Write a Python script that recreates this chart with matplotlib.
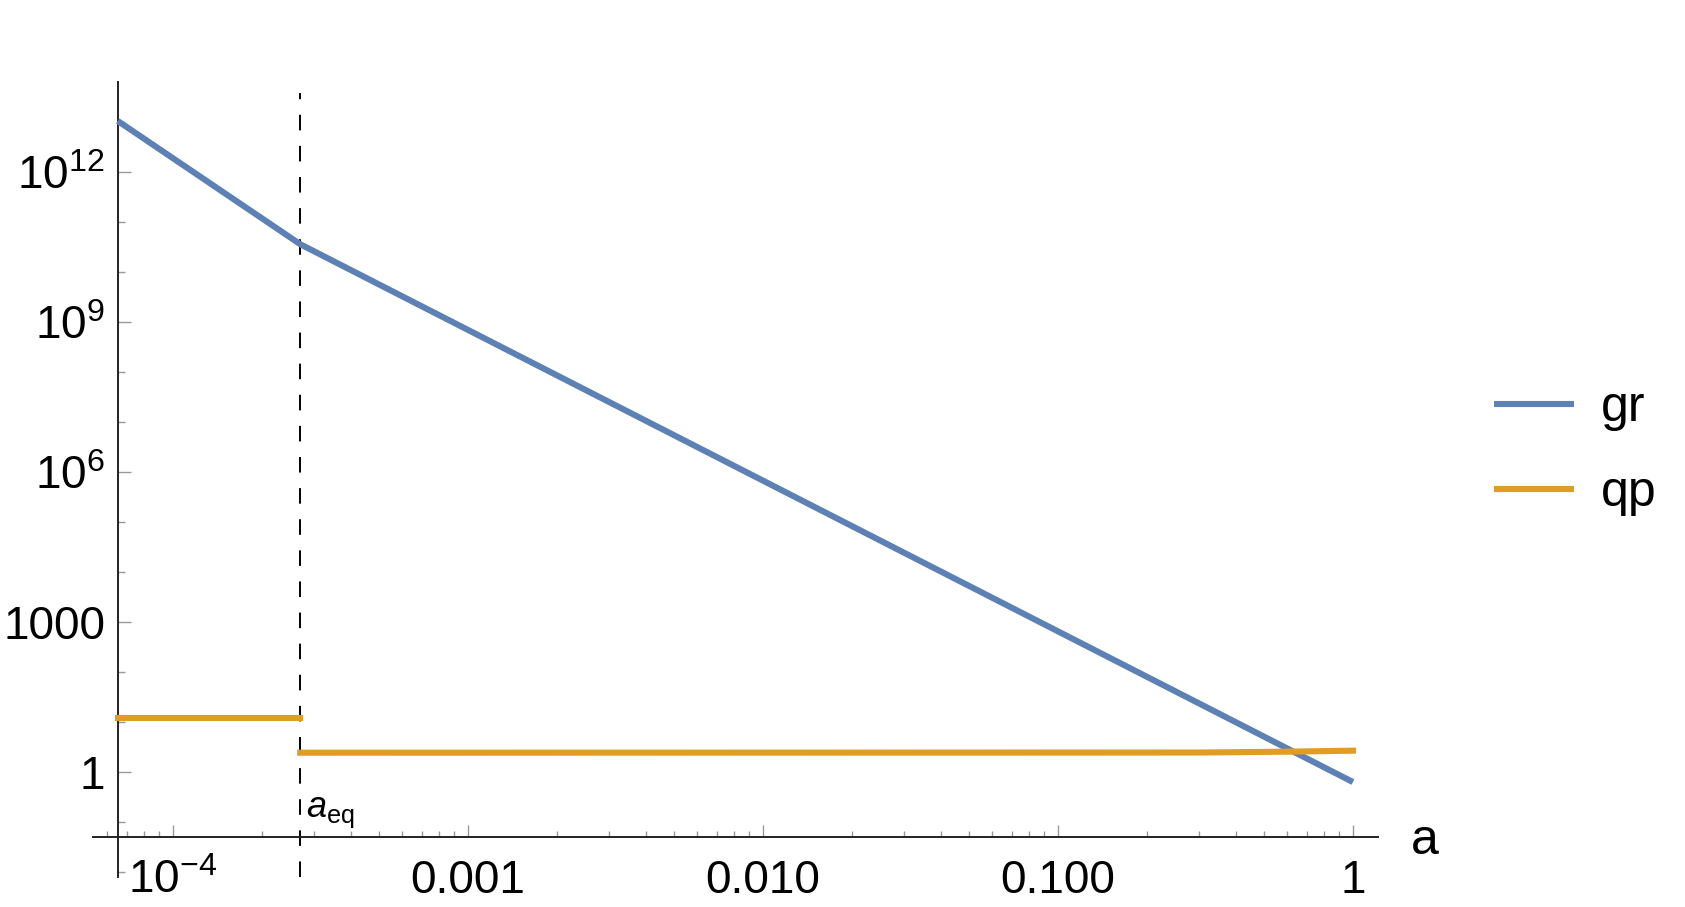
import matplotlib
matplotlib.use('Agg')
import matplotlib.pyplot as plt
from matplotlib.ticker import FixedLocator, NullFormatter

plt.rcParams['font.family'] = ['Liberation Sans', 'DejaVu Sans']
plt.rcParams['mathtext.fontset'] = 'custom'
plt.rcParams['mathtext.rm'] = 'Liberation Sans'
plt.rcParams['mathtext.it'] = 'Liberation Sans:italic'
plt.rcParams['mathtext.default'] = 'regular'

# --------DATA--------
a_eq = 2.7e-4
a_gr = [6.5e-5, a_eq, 1.0]
gr = [1.05e13, 3.6e10, 0.63]
a_qp_early = [6.5e-5, a_eq]
qp_early = [12.2, 12.2]
a_qp_late = [a_eq, 0.3, 0.6, 1.0]
qp_late = [2.43, 2.45, 2.55, 2.67]

x_ticks = [1e-4, 1e-3, 1e-2, 1e-1, 1]
x_labels = [r'$10^{-4}$', '0.001', '0.010', '0.100', '1']
y_ticks = [1, 1e3, 1e6, 1e9, 1e12]
y_labels = ['1', '1000', r'$10^{6}$', r'$10^{9}$', r'$10^{12}$']

blue = '#5E81B5'
orange = '#E19C24'

# --------FIGURE--------
W, H = 1685, 907
fig = plt.figure(figsize=(W / 100, H / 100), dpi=100)
ax = fig.add_axes([93 / W, (H - 877) / H, (1378 - 93) / W, (877 - 82) / H])
ax.set_xscale('log')
ax.set_yscale('log')
ax.set_xlim(10 ** -4.271, 10 ** 0.085)
ax.set_ylim(10 ** -2.1, 10 ** 13.8)

# mathematica-style axes crossing inside the plot range
x_cross, y_cross = 10 ** -4.186, 10 ** -1.3
for s in ('top', 'right'):
    ax.spines[s].set_visible(False)
ax.spines['left'].set_position(('data', x_cross))
ax.spines['bottom'].set_position(('data', y_cross))
for s in ('left', 'bottom'):
    ax.spines[s].set_color('#222222')
    ax.spines[s].set_linewidth(1.4)

ax.xaxis.set_major_locator(FixedLocator(x_ticks))
ax.xaxis.set_minor_locator(FixedLocator([k * 10.0 ** d for d in range(-5, 1) for k in range(2, 10)]))
ax.set_xticklabels(x_labels)
ax.xaxis.set_minor_formatter(NullFormatter())
ax.yaxis.set_major_locator(FixedLocator(y_ticks))
ax.yaxis.set_minor_locator(FixedLocator([10.0 ** d for d in range(-2, 14) if d % 3 != 0]))
ax.set_yticklabels(y_labels)
ax.yaxis.set_minor_formatter(NullFormatter())

ax.tick_params(axis='x', which='major', direction='in', length=8.6, width=1, color='#999999',
               labelsize=33, pad=40.3)
ax.tick_params(axis='x', which='minor', direction='in', length=4.3, width=1, color='#999999')
ax.tick_params(axis='y', which='major', direction='in', length=9.4, width=1, color='#999999',
               labelsize=33, pad=9.4)
ax.tick_params(axis='y', which='minor', direction='in', length=5, width=1, color='#999999')
for t in ax.xaxis.get_major_ticks():
    t.label1.set_va('baseline')

# --------CURVES--------
ax.axvline(a_eq, ymin=0, ymax=(877 - 93) / 795, color='black', lw=1.4, linestyle=(0, (8, 8)), zorder=1)
ln_gr, = ax.plot(a_gr, gr, color=blue, lw=4.4, solid_capstyle='butt', label='gr', zorder=3)
ln_qp, = ax.plot(a_qp_early, qp_early, color=orange, lw=4.4, solid_capstyle='projecting', label='qp', zorder=3)
ax.plot(a_qp_late, qp_late, color=orange, lw=4.4, solid_capstyle='projecting', zorder=3)

ax.annotate(r'$\mathit{a}_{eq}$', xy=(a_eq, 10 ** -0.9), xytext=(4, 0), textcoords='offset points',
            fontsize=26, va='baseline', ha='left')
ax.annotate('a', xy=(1, y_cross), xycoords=('axes fraction', 'data'), xytext=(24, -3),
            textcoords='offset points', fontsize=36, va='center', ha='left')

leg = fig.legend(handles=[ln_gr, ln_qp], loc='center left', bbox_to_anchor=(1494 / W, (H - 450.5) / H),
                 frameon=False, fontsize=36, handlelength=1.6, handletextpad=0.54, labelspacing=0.78,
                 borderpad=0, borderaxespad=0)
for l in leg.get_lines():
    l.set_solid_capstyle('butt')

fig.savefig('out.png', dpi=100)
